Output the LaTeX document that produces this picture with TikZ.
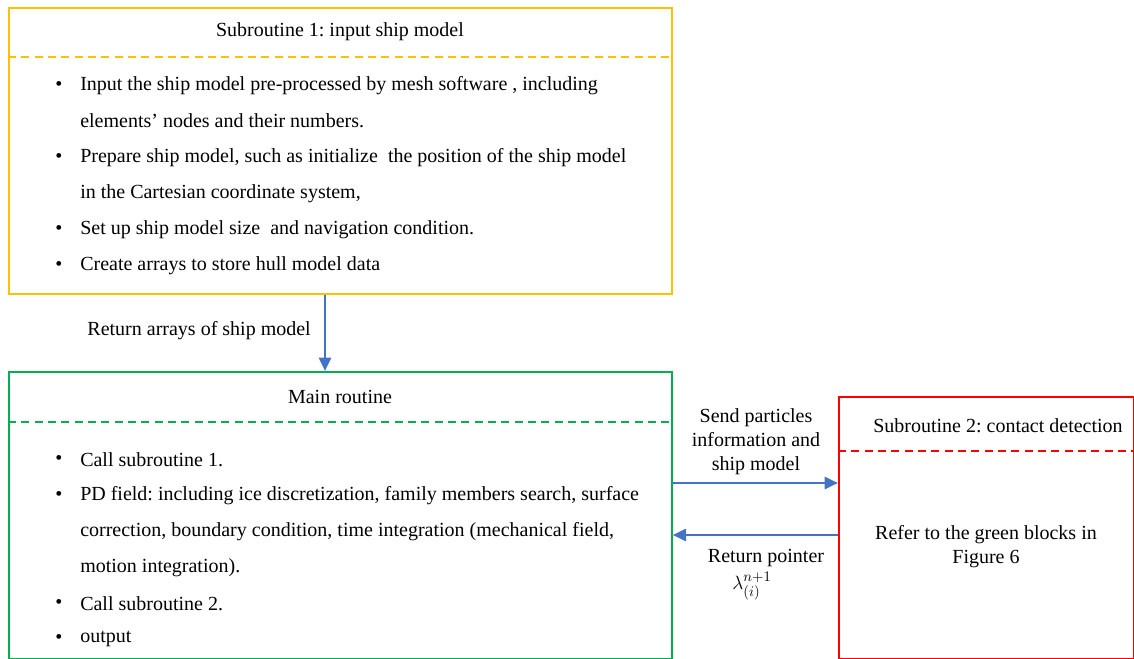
\documentclass[tikz,border=0pt]{standalone}
\usepackage{fontspec}
\setmainfont{Liberation Serif}
\usetikzlibrary{arrows.meta}
\definecolor{boxyellow}{HTML}{FFC000}
\definecolor{boxgreen}{HTML}{00B050}
\definecolor{boxred}{HTML}{FF0000}
\definecolor{arrowblue}{HTML}{4472C4}
\frenchspacing
\begin{document}
\begin{tikzpicture}[x=0.75pt, y=-0.75pt,
    box/.style={draw, line width=1.3pt, anchor=north west, inner sep=0pt},
    sep/.style={line width=1.3pt, dash pattern=on 6pt off 4pt},
    flow/.style={arrowblue, line width=2pt, -{Triangle[length=10pt, width=9pt]}},
    txt/.style={inner sep=0pt, yshift=-1.5pt, font=\fontsize{15}{18}\selectfont},
    item/.style={txt, anchor=west}]
    \useasboundingbox (0,0) rectangle (1134,659);

    % Define boxes
    \node[box, draw=boxyellow, minimum width=497.25pt, minimum height=214.5pt] (sub1) at (8,7) {};
    \node[box, draw=boxgreen, minimum width=497.25pt, minimum height=215.25pt] (main) at (8,371) {};
    \node[box, draw=boxred, minimum width=221.25pt, minimum height=196.5pt] (sub2) at (838,396) {};

    % Draw dashed separators
    \draw[sep, boxyellow] ([yshift=-37.5pt]sub1.north west) -- ([yshift=-37.5pt]sub1.north east);
    \draw[sep, boxgreen] ([yshift=-38.25pt]main.north west) -- ([yshift=-38.25pt]main.north east);
    \draw[sep, boxred] ([yshift=-41.25pt]sub2.north west) -- ([yshift=-41.25pt]sub2.north east);

    % Add titles
    \node[txt] (t1) at (340,30) {Subroutine 1: input ship model};
    \node[txt] (t2) at (340,395) {Main routine};
    \node[txt] (t3) at (998,424) {Subroutine 2: contact detection};

    % Add items of subroutine 1
    \node[item] (d1) at (55,84) {\textbullet};
    \node[item] (i1) at (80,84) {Input the ship model pre-processed by mesh software , including};
    \node[item] (i1b) at (80,119) {elements’ nodes and their numbers.};
    \node[item] (d2) at (55,156) {\textbullet};
    \node[item] (i2) at (80,156) {Prepare ship model, such as initialize \ the position of the ship model};
    \node[item] (i2b) at (80,192) {in the Cartesian coordinate system,};
    \node[item] (d3) at (55,228) {\textbullet};
    \node[item] (i3) at (80,228) {Set up ship model size \ and navigation condition.};
    \node[item] (d4) at (55,264) {\textbullet};
    \node[item] (i4) at (80,264) {Create arrays to store hull model data};

    % Add items of main routine
    \node[item] (d5) at (55,458) {\textbullet};
    \node[item] (m1) at (80,458) {Call subroutine 1.};
    \node[item] (d6) at (55,494) {\textbullet};
    \node[item] (m2) at (80,494) {PD field: including ice discretization, family members search, surface};
    \node[item] (m2b) at (80,530) {correction, boundary condition, time integration (mechanical field,};
    \node[item] (m2c) at (80,566) {motion integration).};
    \node[item] (d7) at (55,602) {\textbullet};
    \node[item] (m3) at (80,602) {Call subroutine 2.};
    \node[item] (d8) at (55,637) {\textbullet};
    \node[item] (m4) at (80,637) {output};

    % Add text of subroutine 2
    \node[txt, align=center] (r1) at (986,545) {Refer to the green blocks in\\Figure 6};

    % Draw connectors
    \coordinate (down) at (325,0);
    \coordinate (send) at (0,483);
    \coordinate (back) at (0,535);
    \draw[flow] (sub1.south -| down) -- (main.north -| down);
    \draw[flow] (main.east |- send) -- (sub2.west |- send);
    \draw[flow] (sub2.west |- back) -- (main.east |- back);

    % Add connector labels
    \node[txt, anchor=east] (l1) at (311,329) {Return arrays of ship model};
    \node[txt, align=center] (l2) at (756,440) {Send particles\\information and\\ship model};
    \node[txt] (l3) at (766,556) {Return pointer};
    \node[txt] (l4) at (752,584) {$\lambda_{(i)}^{n+1}$};
\end{tikzpicture}
\end{document}
